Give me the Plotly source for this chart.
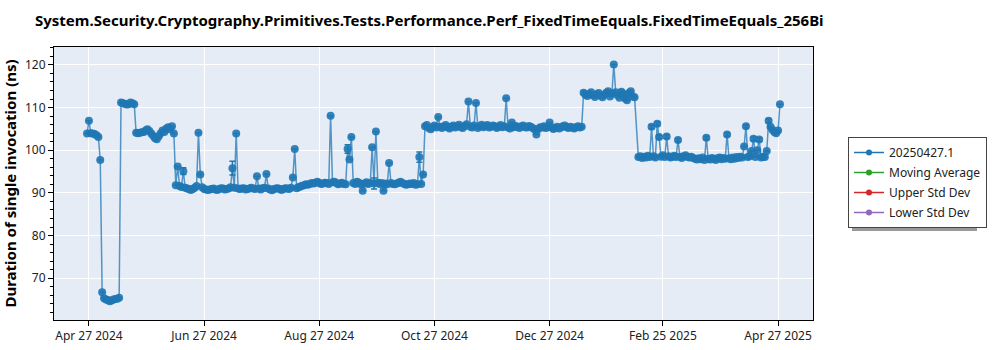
import pandas as pd
import plotly.graph_objects as go

TITLE = "System.Security.Cryptography.Primitives.Tests.Performance.Perf_FixedTimeEquals.FixedTimeEquals_256Bi"
Y_TITLE = "Duration of single invocation (ns)"
SERIES_NAME = "20250427.1"
EXTRA_NAMES = ["Moving Average", "Upper Std Dev", "Lower Std Dev"]
EXTRA_COLORS = ["#2ca02c", "#d62728", "#9467bd"]

TICK_DATES = ["2024-04-27", "2024-06-27", "2024-08-27", "2024-10-27",
              "2024-12-27", "2025-02-25", "2025-04-27"]
TICK_TEXT = ["Apr 27 2024", "Jun 27 2024", "Aug 27 2024", "Oct 27 2024",
             "Dec 27 2024", "Feb 25 2025", "Apr 27 2025"]

# daily segments: (first day, values)
seg_a_start = "2024-04-26"
seg_a = [103.9, 106.9, 104.0, 103.9, 103.8, 103.5, 103.1, 97.7,
         66.7, 65.3, 65.0, 64.9, 64.6, 64.8, 65.0, 65.1, 65.2, 65.4,
         111.2, 111.0, 110.9, 110.7, 110.8, 111.2, 111.0, 110.8,
         104.1, 104.0, 104.1, 104.2, 104.3, 104.6, 104.9, 104.5, 103.9, 103.4,
         102.8, 102.6, 103.3, 104.0, 104.6, 104.3, 105.1, 105.4, 104.9, 105.6, 103.9]

seg_b_start = "2024-06-12"
seg_b = [91.8, 96.2, 91.6, 91.4, 95.1, 91.2, 91.0, 90.9, 90.7, 90.9,
         91.2, 91.6, 104.1, 94.3, 91.3, 90.9, 90.8, 90.7, 90.8, 90.9,
         91.0, 90.8, 90.7, 90.9, 91.1, 91.0, 90.8, 90.9, 91.0, 91.3,
         95.8, 91.2, 103.9, 91.0, 90.9, 91.0, 91.1, 90.8, 90.9, 91.0,
         91.2, 91.0, 90.9, 93.9, 91.0, 90.8, 91.1, 91.2, 94.4, 91.0,
         90.8, 90.6, 90.9, 91.0, 91.1, 90.9, 90.7, 90.9, 91.1, 91.0,
         90.9, 91.2, 93.6, 100.3, 91.1, 91.3, 91.5, 91.7, 91.8, 92.0,
         91.9, 92.1, 92.3, 92.2, 92.4, 92.6, 92.3, 92.1, 92.2, 92.4,
         92.3, 92.1, 108.1, 92.5, 92.6, 92.3, 92.0, 92.2, 92.4, 92.1,
         92.0, 100.3, 97.8, 103.1, 92.3, 92.1, 92.6, 92.4, 92.0, 90.5,
         92.2, 92.5, 92.1, 92.3, 100.7, 92.2, 104.4, 92.4, 92.1, 92.3,
         90.5, 92.2, 92.0, 97.0, 92.3, 92.1, 92.0, 92.2, 92.4, 92.6,
         92.3, 92.1, 91.9, 92.0, 92.2, 92.1, 92.3, 91.9, 92.0, 98.4,
         92.1, 94.3]

seg_c_start = "2024-10-22"
seg_c = [105.6, 105.9, 105.2, 104.9, 105.4, 105.8, 105.3, 107.8, 105.5, 105.2,
         105.6, 105.9, 105.4, 105.1, 105.5, 105.8, 105.3, 105.6, 106.0, 105.4,
         105.2, 105.7, 106.1, 111.4, 105.5, 105.3, 105.8, 111.1, 105.2, 105.6,
         106.0, 105.4, 105.7, 105.9, 105.3, 105.5, 105.8, 105.6, 105.2, 105.5,
         105.9, 105.4, 105.6, 112.2, 105.3, 105.1, 106.5, 105.4, 105.7, 105.5,
         105.2, 105.6, 105.8, 105.4, 105.3, 105.7, 105.5, 105.2, 104.9, 103.7,
         105.0, 105.4, 105.3, 105.6, 105.2, 105.4, 106.5, 105.3, 105.0, 105.2,
         105.5, 105.1, 105.3, 105.6, 105.8, 105.4, 105.2, 105.5, 105.3, 105.1,
         105.4, 105.6, 105.3, 105.5]

seg_d_start = "2025-01-14"
seg_d = [113.5, 113.0, 112.7, 113.2, 113.6, 112.9, 112.5, 113.1, 113.4, 112.8,
         112.4, 113.0, 113.5, 113.8, 112.6, 113.3, 120.1, 113.6, 112.9, 112.3,
         113.7, 113.2, 112.1, 111.7, 113.4, 113.8, 112.6, 112.4]

seg_e_start = "2025-02-12"
seg_e = [98.4, 98.6, 98.2, 98.5, 98.3, 98.7, 98.4, 105.5, 98.6, 98.3,
         106.2, 103.1, 98.5, 98.8, 98.4, 103.2, 98.6, 98.3, 98.5, 98.7,
         98.4, 102.4, 98.5, 98.2, 98.6, 98.8, 98.4, 98.3, 98.5, 98.2,
         98.0, 97.8, 98.1, 97.9, 98.3, 97.7, 102.9, 98.0, 97.8, 98.2,
         98.0, 97.7, 98.1, 98.3, 97.9, 98.2, 98.0, 103.7, 98.1, 97.9,
         98.3, 98.0, 98.4, 98.2, 98.5, 98.3, 100.9, 105.6, 98.4, 98.6,
         99.8, 102.7, 98.4, 100.0, 102.5, 98.3, 98.5, 98.4, 99.8,
         106.9, 105.5, 104.8, 104.3, 104.0, 104.6, 110.8]

# visible error bars (date -> half width in ns)
err_dates = ["2024-06-16", "2024-07-12", "2024-09-11", "2024-09-25", "2024-10-19",
             "2025-01-14", "2025-01-21", "2025-02-03", "2025-02-05",
             "2025-02-19", "2025-02-22", "2025-02-23", "2025-02-27", "2025-03-05",
             "2025-03-20", "2025-03-31", "2025-04-10", "2025-04-14", "2025-04-17",
             "2025-04-22"]
err_sizes = [0.8, 1.6, 1.0, 1.3, 1.2,
             0.4, 0.4, 0.4, 0.4,
             0.4, 0.4, 0.4, 0.4, 0.4,
             0.4, 0.4, 0.4, 0.4, 0.4,
             0.4]

frames = []
for start, vals in [(seg_a_start, seg_a), (seg_b_start, seg_b), (seg_c_start, seg_c),
                    (seg_d_start, seg_d), (seg_e_start, seg_e)]:
    frames.append(pd.DataFrame({"date": pd.date_range(start, periods=len(vals), freq="D"),
                                "value": vals}))
df = pd.concat(frames, ignore_index=True)
err_map = dict(zip(pd.to_datetime(err_dates), err_sizes))
df["err"] = df["date"].map(err_map).fillna(0.0)

BLUE = "#1f77b4"
fig = go.Figure()
fig.add_trace(go.Scatter(
    x=df["date"], y=df["value"], mode="lines+markers", name=SERIES_NAME,
    showlegend=False, legendgroup="g0",
    line=dict(color="rgba(31,119,180,0.75)", width=1.5),
    marker=dict(color=BLUE, size=8, opacity=0.9),
    error_y=dict(type="data", array=df["err"], visible=True, color=BLUE,
                 thickness=1.5, width=3),
))
# legend entries (small markers as in the reference legend)
for i, (nm, col) in enumerate(zip([SERIES_NAME] + EXTRA_NAMES, [BLUE] + EXTRA_COLORS)):
    fig.add_trace(go.Scatter(x=[None], y=[None], mode="lines+markers", name=nm,
                             legendgroup=f"g{i}",
                             line=dict(color=col, width=1.5),
                             marker=dict(color=col, size=6), showlegend=True))

FONT = "Noto Sans"
L, R, T, B = 54, 813, 47, 320
W, H = 1000, 350
pw, ph = R - L, B - T

def px_x(x):
    return (x - L) / pw

def px_y(y):
    return (B - y) / ph

fig.add_shape(type="rect", xref="paper", yref="paper",
              x0=px_x(852), x1=px_x(977), y0=px_y(231), y1=px_y(141),
              fillcolor="#9a9a9a", line=dict(width=0), layer="below")

fig.update_layout(
    width=W, height=H,
    margin=dict(l=L, r=W - R, t=T, b=H - B, autoexpand=False),
    paper_bgcolor="white", plot_bgcolor="#E5ECF6",
    font=dict(family=FONT, size=12, color="#222"),
    title=dict(text=TITLE, x=35 / W, xanchor="left", xref="container",
               y=1 - 21 / H, yanchor="middle", yref="container",
               font=dict(family=FONT, size=15, color="black", weight="bold")),
    showlegend=True,
    legend=dict(x=px_x(848), y=px_y(137), xanchor="left", yanchor="top",
                bgcolor="white", bordercolor="#444", borderwidth=1,
                font=dict(family=FONT, size=12, color="#222"),
                traceorder="grouped", tracegroupgap=1),
    xaxis=dict(type="date", range=["2024-04-08 12:00", "2025-05-15 12:00"],
               tickvals=TICK_DATES, ticktext=TICK_TEXT, automargin=False,
               showgrid=True, gridcolor="white", gridwidth=1,
               showline=True, linecolor="black", linewidth=1, mirror=True,
               ticks="outside", ticklen=5, tickcolor="black", zeroline=False),
    yaxis=dict(range=[60.2, 124.2], dtick=10, tick0=0, automargin=False,
               showgrid=True, gridcolor="white", gridwidth=1,
               showline=True, linecolor="black", linewidth=1, mirror=True,
               ticks="outside", ticklen=5, tickcolor="black", zeroline=False,
               minor=dict(dtick=2, ticks="outside", ticklen=3, tickcolor="black",
                          showgrid=False),
               title=dict(text=Y_TITLE,
                          font=dict(family=FONT, size=15, color="black", weight="bold"))),
)

fig.write_html("out.html")
